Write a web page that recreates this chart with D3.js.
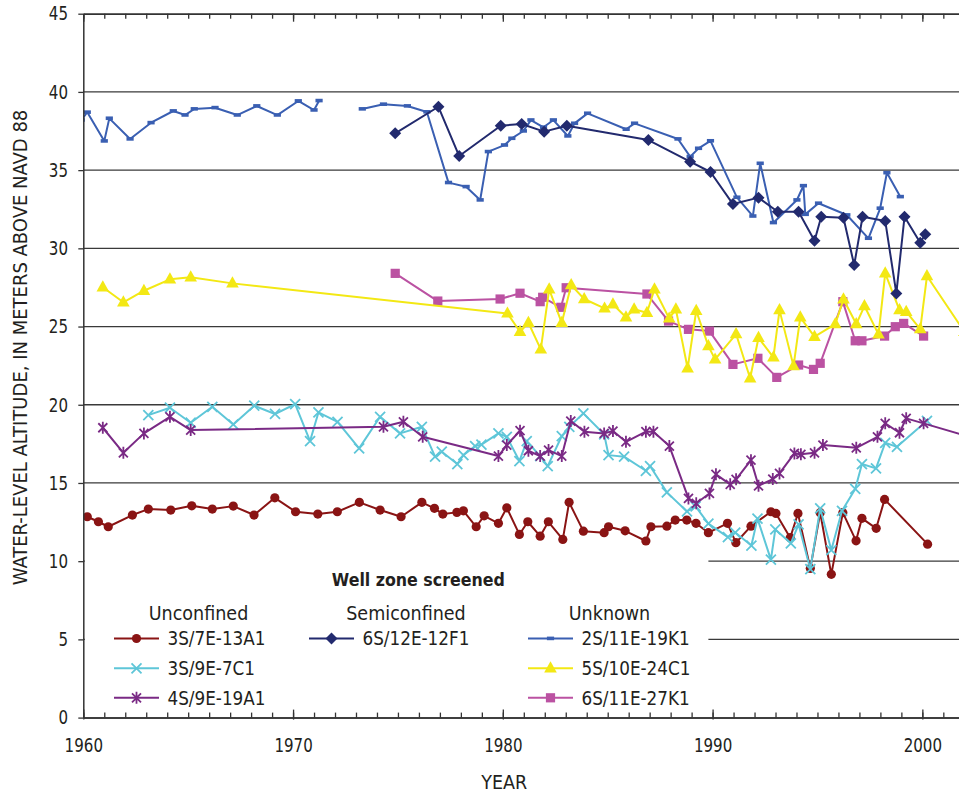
<!DOCTYPE html>
<html>
<head>
<meta charset="utf-8">
<script src="https://cdn.jsdelivr.net/npm/d3@7"></script>
<style>
  html, body { margin: 0; padding: 0; background: #fff; }
  svg { display: block; }
  .lbl { font-family: 'DejaVu Sans Condensed', 'Liberation Sans Narrow', 'Arial Narrow', sans-serif; fill: #231f20; }
</style>
</head>
<body>
<svg id="chart" width="959" height="794"></svg>
<script>
// Water-level altitude (m above NAVD 88) by well, [year, level]
const well_3S_7E_13A1 = [
  [1960.19, 12.84], [1960.72, 12.52], [1961.19, 12.20], [1962.34, 12.95], [1963.10, 13.33],
  [1964.17, 13.27], [1965.17, 13.54], [1966.15, 13.33], [1967.15, 13.52], [1968.14, 12.95],
  [1969.13, 14.05], [1970.12, 13.16], [1971.18, 13.01], [1972.11, 13.16], [1973.16, 13.76],
  [1974.15, 13.27], [1975.15, 12.84], [1976.14, 13.76], [1976.74, 13.38], [1977.14, 13.01],
  [1977.81, 13.12], [1978.12, 13.22], [1978.73, 12.20], [1979.11, 12.90], [1979.79, 12.42],
  [1980.19, 13.41], [1980.79, 11.71], [1981.19, 12.52], [1981.78, 11.60], [1982.17, 12.52],
  [1982.86, 11.39], [1983.16, 13.76], [1983.84, 11.92], [1984.83, 11.82], [1985.04, 12.20],
  [1985.83, 11.94], [1986.82, 11.29], [1987.06, 12.20], [1987.82, 12.24], [1988.22, 12.63],
  [1988.77, 12.63], [1989.21, 12.42], [1989.80, 11.82], [1990.71, 12.42], [1991.11, 11.18],
  [1991.83, 12.24], [1992.78, 13.16], [1993.02, 13.05], [1993.70, 11.50], [1994.07, 13.05],
  [1994.66, 9.54], [1995.13, 13.10], [1995.66, 9.16], [1996.21, 13.10], [1996.84, 11.30],
  [1997.12, 12.74], [1997.80, 12.10], [1998.20, 13.95], [2000.25, 11.09]
];

const well_3S_9E_7C1 = [
  [1963.10, 19.34], [1964.13, 19.81], [1965.12, 18.85], [1966.15, 19.87], [1967.15, 18.74],
  [1968.15, 19.94], [1969.14, 19.41], [1970.10, 20.04], [1970.81, 17.68], [1971.21, 19.51],
  [1972.12, 18.91], [1973.15, 17.21], [1974.15, 19.23], [1975.10, 18.17], [1976.14, 18.59],
  [1976.77, 16.68], [1977.09, 17.00], [1977.83, 16.21], [1978.12, 16.78], [1978.68, 17.36],
  [1978.98, 17.45], [1979.79, 18.17], [1980.19, 17.95], [1980.79, 16.40], [1981.14, 17.68],
  [1981.78, 16.72], [1982.14, 16.08], [1982.81, 18.00], [1983.17, 18.59], [1983.84, 19.45],
  [1984.83, 18.11], [1985.04, 16.78], [1985.78, 16.68], [1986.82, 15.78], [1987.02, 16.08],
  [1987.82, 14.40], [1988.78, 13.18], [1989.19, 13.50], [1989.80, 12.40], [1990.73, 11.54],
  [1991.08, 11.83], [1991.85, 11.00], [1992.14, 12.72], [1992.78, 10.10], [1992.99, 12.03],
  [1993.73, 11.14], [1994.10, 12.35], [1994.66, 9.49], [1995.13, 13.37], [1995.66, 10.71],
  [1996.17, 13.22], [1996.80, 14.62], [1997.12, 16.21], [1997.79, 15.93], [1998.23, 17.57],
  [1998.79, 17.31], [2000.22, 18.97]
];

const well_4S_9E_19A1 = [
  [1960.93, 18.53], [1961.91, 16.93], [1962.89, 18.17], [1964.13, 19.23], [1965.12, 18.38],
  [1974.31, 18.59], [1975.26, 18.91], [1976.18, 17.95], [1979.79, 16.72], [1980.19, 17.42],
  [1980.82, 18.34], [1981.22, 17.06], [1981.78, 16.72], [1982.18, 17.10], [1982.81, 16.72],
  [1983.24, 18.96], [1983.89, 18.28], [1984.83, 18.17], [1985.25, 18.32], [1985.87, 17.63],
  [1986.82, 18.28], [1987.18, 18.28], [1987.94, 17.36], [1988.85, 14.01], [1989.22, 13.70],
  [1989.85, 14.33], [1990.16, 15.55], [1990.84, 14.91], [1991.12, 15.23], [1991.83, 16.46],
  [1992.19, 14.82], [1992.87, 15.25], [1993.19, 15.61], [1993.90, 16.89], [1994.21, 16.83],
  [1994.86, 16.93], [1995.26, 17.42], [1996.85, 17.25], [1997.86, 17.95], [1998.23, 18.81],
  [1998.91, 18.21], [1999.23, 19.13], [2000.06, 18.81], [2002.00, 18.05]
];

const well_6S_12E_12F1 = [
  [1974.87, 37.35], [1976.93, 39.05], [1977.92, 35.90], [1979.90, 37.84], [1980.90, 37.95],
  [1981.97, 37.46], [1983.05, 37.84], [1986.94, 36.92], [1988.93, 35.54], [1989.90, 34.88],
  [1990.97, 32.83], [1992.19, 33.24], [1993.11, 32.34], [1994.10, 32.34], [1994.86, 30.49],
  [1995.18, 32.02], [1996.24, 31.96], [1996.75, 28.93], [1997.15, 32.02], [1998.23, 31.75],
  [1998.76, 27.12], [1999.15, 32.02], [1999.90, 30.36], [2000.14, 30.90]
];

const well_2S_11E_19K1 = [
  [1959.90, 38.20], [1960.19, 38.70], [1961.00, 36.86], [1961.24, 38.31], [1962.23, 36.99],
  [1963.23, 38.03], [1964.29, 38.78], [1964.85, 38.52], [1965.29, 38.91], [1966.28, 38.99],
  [1967.34, 38.52], [1968.27, 39.10], [1969.25, 38.52], [1970.25, 39.42], [1971.00, 38.84],
  [1971.24, 39.44], [1972.30, null],
  [1973.30, 38.91], [1974.31, 39.21], [1975.45, 39.10], [1976.38, 38.72], [1977.41, 34.20],
  [1978.25, 33.94], [1978.92, 33.09], [1979.31, 36.18], [1980.08, 36.60], [1980.43, 37.03],
  [1980.98, 37.50], [1981.34, 38.20], [1981.94, 37.74], [1982.41, 38.20], [1983.10, 37.18],
  [1983.42, 37.99], [1984.04, 38.63], [1985.88, 37.61], [1986.28, 37.99], [1988.35, 36.99],
  [1988.93, 35.86], [1989.33, 36.39], [1989.90, 36.87], [1991.16, 33.26], [1991.92, 32.06],
  [1992.27, 35.43], [1992.90, 31.64], [1994.02, 33.09], [1994.33, 34.00], [1994.42, 32.17],
  [1995.05, 32.88], [1996.40, 32.13], [1997.43, 30.64], [1997.99, 32.56], [1998.31, 34.83],
  [1998.95, 33.30]
];

const well_5S_10E_24C1 = [
  [1960.93, 27.51], [1961.91, 26.55], [1962.89, 27.29], [1964.13, 28.02], [1965.12, 28.15],
  [1967.11, 27.76], [1980.22, 25.84], [1980.82, 24.67], [1981.22, 25.24], [1981.81, 23.54],
  [1982.21, 27.38], [1982.81, 25.24], [1983.26, 27.65], [1983.88, 26.76], [1984.85, 26.16],
  [1985.25, 26.42], [1985.87, 25.59], [1986.26, 26.10], [1986.87, 25.88], [1987.23, 27.38],
  [1987.93, 25.52], [1988.25, 26.10], [1988.81, 22.33], [1989.22, 26.01], [1989.80, 23.75],
  [1990.12, 22.90], [1991.12, 24.52], [1991.79, 21.69], [1992.19, 24.28], [1992.90, 23.03],
  [1993.19, 26.05], [1993.86, 22.47], [1994.18, 25.59], [1994.86, 24.35], [1995.85, 25.16],
  [1996.24, 26.74], [1996.85, 25.16], [1997.24, 26.31], [1997.91, 24.50], [1998.23, 28.40],
  [1998.91, 26.05], [1999.23, 25.95], [1999.90, 24.84], [2000.22, 28.23], [2002.00, 24.67]
];

const well_6S_11E_27K1 = [
  [1974.87, 28.40], [1976.90, 26.63], [1979.87, 26.76], [1980.82, 27.13], [1981.78, 26.59],
  [1981.90, 26.87], [1982.77, 26.23], [1983.02, 27.48], [1986.87, 27.08], [1987.90, 25.35],
  [1988.85, 24.82], [1989.85, 24.71], [1990.97, 22.58], [1992.16, 22.97], [1993.06, 21.75],
  [1994.10, 22.54], [1994.81, 22.26], [1995.13, 22.65], [1996.21, 26.59], [1996.80, 24.09],
  [1997.12, 24.09], [1998.20, 24.39], [1998.71, 24.99], [1999.11, 25.20], [2000.06, 24.39]
];

// Axis ticks
const yearMajor = [1960, 1970, 1980, 1990, 2000];
const yearMinor = d3.range(1960, 2003);
const levelTicks = [0, 5, 10, 15, 20, 25, 30, 35, 40, 45];

// Legend groups and entries
const legendGroups = ["Unconfined", "Semiconfined", "Unknown"];
const legendTitle = "Well zone screened";

const series = [
  { name: "3S/7E-13A1", data: well_3S_7E_13A1, color: "#8a1414", marker: "circle", group: 0, row: 0 },
  { name: "3S/9E-7C1", data: well_3S_9E_7C1, color: "#5ec6d8", marker: "x", group: 0, row: 1 },
  { name: "4S/9E-19A1", data: well_4S_9E_19A1, color: "#7a2a85", marker: "star", group: 0, row: 2 },
  { name: "6S/11E-27K1", data: well_6S_11E_27K1, color: "#bb52a2", marker: "square", group: 2, row: 2 },
  { name: "5S/10E-24C1", data: well_5S_10E_24C1, color: "#f3e814", marker: "triangle", group: 2, row: 1 },
  { name: "2S/11E-19K1", data: well_2S_11E_19K1, color: "#3a5fb2", marker: "dash", group: 2, row: 0 },
  { name: "6S/12E-12F1", data: well_6S_12E_12F1, color: "#222a6e", marker: "diamond", group: 1, row: 0 }
];

const svg = d3.select("#chart");
const plotLeft = 83.3, plotRight = 964.3, plotTop = 13.7, plotBottom = 717.6;

const x = d3.scaleLinear().domain([1960, 2002]).range([plotLeft, plotRight]);
const y = d3.scaleLinear().domain([0, 45]).range([plotBottom, plotTop]);

const FONT = "'DejaVu Sans Condensed', 'Liberation Sans Narrow', 'Arial Narrow', sans-serif";
const TICK_SQUEEZE = 0.86;   // tick numerals are set in a narrow cut

svg.append("defs").append("clipPath").attr("id", "plot-clip")
  .append("rect").attr("x", plotLeft).attr("y", plotTop - 8)
  .attr("width", plotRight - plotLeft + 10).attr("height", plotBottom - plotTop + 16);

// Horizontal gridlines
svg.append("g")
  .selectAll("line")
  .data(levelTicks.filter(v => v > 0 && v < 45))
  .join("line")
  .attr("x1", plotLeft).attr("x2", plotRight)
  .attr("y1", d => y(d)).attr("y2", d => y(d))
  .attr("stroke", "#3a3a3a").attr("stroke-width", 1.3);

// Marker shapes
function drawMarker(g, type, color) {
  switch (type) {
    case "circle":
      g.append("circle").attr("r", 4.6).attr("fill", color);
      break;
    case "x":
      g.append("path").attr("d", "M-5,-5L5,5M-5,5L5,-5")
        .attr("stroke", color).attr("stroke-width", 1.8).attr("fill", "none");
      break;
    case "star":
      g.append("path").attr("d", "M-4.5,-4.5L4.5,4.5M-4.5,4.5L4.5,-4.5M0,-6L0,6")
        .attr("stroke", color).attr("stroke-width", 1.8).attr("fill", "none");
      break;
    case "square":
      g.append("rect").attr("x", -4.6).attr("y", -4.6).attr("width", 9.2).attr("height", 9.2).attr("fill", color);
      break;
    case "triangle":
      g.append("path").attr("d", "M0,-7L6.3,4.2L-6.3,4.2Z").attr("fill", color);
      break;
    case "dash":
      g.append("rect").attr("x", -3.6).attr("y", -1.9).attr("width", 7.2).attr("height", 3.6).attr("fill", color);
      break;
    case "diamond":
      g.append("path").attr("d", "M0,-6L6,0L0,6L-6,0Z").attr("fill", color);
      break;
  }
}

// Series lines and markers
const plot = svg.append("g").attr("clip-path", "url(#plot-clip)");
const line = d3.line()
  .defined(d => d[1] !== null)
  .x(d => x(d[0]))
  .y(d => y(d[1]));

series.forEach(s => {
  const g = plot.append("g");
  g.append("path")
    .datum(s.data)
    .attr("d", line)
    .attr("fill", "none")
    .attr("stroke", s.color)
    .attr("stroke-width", 2)
    .attr("stroke-linejoin", "round");
  g.selectAll("g.pt")
    .data(s.data.filter(d => d[1] !== null))
    .join("g")
    .attr("class", "pt")
    .attr("transform", d => `translate(${x(d[0])},${y(d[1])})`)
    .each(function () { drawMarker(d3.select(this), s.marker, s.color); });
});

// Legend panel (white background over the lower-left gridlines)
const legend = svg.append("g");
legend.append("rect")
  .attr("x", plotLeft + 1.5).attr("y", 549)
  .attr("width", x(1989.8) - plotLeft - 1.5).attr("height", plotBottom - 549 - 1.5)
  .attr("fill", "#fff");

legend.append("text")
  .attr("class", "lbl")
  .attr("x", 418.3).attr("y", 586)
  .attr("text-anchor", "middle")
  .attr("font-size", 17.6).attr("font-weight", "bold")
  .text(legendTitle);

const groupCenters = [198.5, 406, 609.5];
const groupLineX = [114, 309, 528];
legendGroups.forEach((name, i) => {
  legend.append("text")
    .attr("class", "lbl")
    .attr("x", groupCenters[i]).attr("y", 620)
    .attr("text-anchor", "middle")
    .attr("font-size", 19.5)
    .text(name);
});

const rowY = [638.5, 668.3, 697.8];
series.forEach(s => {
  const lx = groupLineX[s.group];
  const ly = rowY[s.row];
  const e = legend.append("g");
  e.append("line").attr("x1", lx).attr("x2", lx + 45).attr("y1", ly).attr("y2", ly)
    .attr("stroke", s.color).attr("stroke-width", 2);
  const m = e.append("g").attr("transform", `translate(${lx + 22.5},${ly})`);
  drawMarker(m, s.marker, s.color);
  e.append("text")
    .attr("class", "lbl")
    .attr("x", lx + 53.5).attr("y", ly + 6.8)
    .attr("font-size", 18.7)
    .text(s.name);
});

// Axes
function styleAxis(g) {
  g.selectAll("path.domain").attr("stroke", "#333").attr("stroke-width", 1.5);
  g.selectAll(".tick line").attr("stroke", "#333").attr("stroke-width", 1.3);
  g.selectAll("text").attr("font-family", FONT).attr("fill", "#231f20");
}

// Bottom: minor (yearly) ticks inside, decade ticks with labels
svg.append("g")
  .attr("transform", `translate(0,${plotBottom})`)
  .call(d3.axisBottom(x).tickValues(yearMinor).tickSizeInner(-5).tickSizeOuter(0).tickFormat(""))
  .call(styleAxis);
const xMajor = svg.append("g")
  .attr("transform", `translate(0,${plotBottom})`)
  .call(d3.axisBottom(x).tickValues(yearMajor).tickSizeInner(-8).tickSizeOuter(0).tickPadding(21).tickFormat(d3.format("d")))
  .call(styleAxis);
xMajor.selectAll(".tick line").attr("y1", 2);
xMajor.selectAll("text")
  .attr("font-size", 19.5)
  .attr("transform", `scale(${TICK_SQUEEZE},1)`);

// Top border with inward ticks
svg.append("g")
  .attr("transform", `translate(0,${plotTop})`)
  .call(d3.axisTop(x).tickValues(yearMinor).tickSizeInner(-5).tickSizeOuter(0).tickFormat(""))
  .call(styleAxis);
svg.append("g")
  .attr("transform", `translate(0,${plotTop})`)
  .call(d3.axisTop(x).tickValues(yearMajor).tickSizeInner(-8).tickSizeOuter(0).tickFormat(""))
  .call(styleAxis);

// Left axis
const yAxis = svg.append("g")
  .attr("transform", `translate(${plotLeft},0)`)
  .call(d3.axisLeft(y).tickValues(levelTicks).tickSizeInner(5).tickSizeOuter(0).tickPadding(10))
  .call(styleAxis);
yAxis.selectAll("text")
  .attr("font-size", 19.5)
  .attr("x", -15.3 / TICK_SQUEEZE)
  .attr("transform", `scale(${TICK_SQUEEZE},1)`);

// Axis titles
svg.append("text")
  .attr("class", "lbl")
  .attr("transform", `translate(27,347.5) rotate(-90)`)
  .attr("text-anchor", "middle")
  .attr("font-size", 20)
  .text("WATER-LEVEL ALTITUDE, IN METERS ABOVE NAVD 88");

svg.append("text")
  .attr("class", "lbl")
  .attr("x", 504.2).attr("y", 789)
  .attr("text-anchor", "middle")
  .attr("font-size", 19.5)
  .text("YEAR");
</script>
</body>
</html>
